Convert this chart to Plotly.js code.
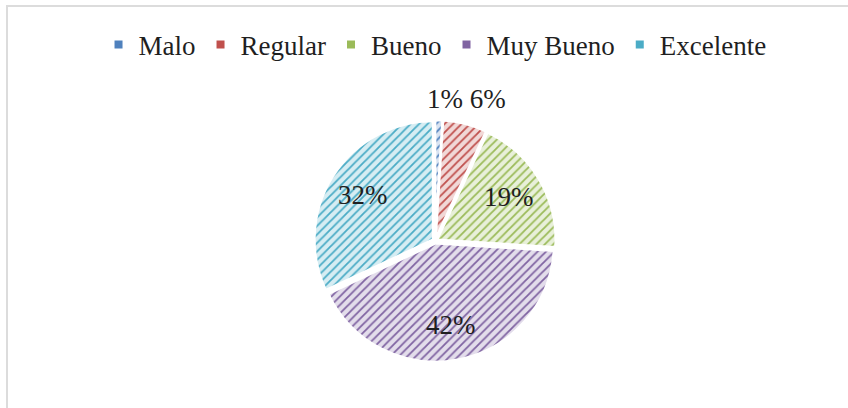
<!DOCTYPE html>
<html>
<head>
<meta charset="utf-8">
<script src="https://cdn.plot.ly/plotly-3.0.1.min.js"></script>
<style>
html,body{margin:0;padding:0;background:#fff;}
#wrap{position:relative;width:848px;height:408px;overflow:hidden;}
#frame{position:absolute;left:6px;top:5px;width:900px;height:500px;border-left:2px solid #dcdcdc;border-top:2px solid #dcdcdc;box-sizing:border-box;}
#chart{position:absolute;left:0;top:0;width:848px;height:408px;}
</style>
</head>
<body>
<div id="wrap"><div id="frame"></div><div id="chart"></div></div>
<script>
const categories = ["Malo", "Regular", "Bueno", "Muy Bueno", "Excelente"];
const values = [1, 6, 19, 42, 32];
const labelsText = ["1%", "6%", "19%", "42%", "32%"];
const labelPlacement = ["outside", "outside", "inside", "inside", "inside"];

const darkColors = ["#4f81bd", "#c0504d", "#9bbb59", "#8064a2", "#4bacc6"];
const lightColors = ["#d9e3f1", "#f1d8d7", "#e8f0d9", "#e3ddeb", "#d6edf3"];

const FONT = "'Liberation Serif', 'Times New Roman', serif";
const FSIZE = 27;
const W = 848, H = 408;
const dom = {x: [0.37, 0.656], y: [0.113, 0.706]};

const pie = {
  type: "pie",
  labels: categories,
  values: values,
  textinfo: "none",
  sort: false,
  direction: "clockwise",
  rotation: 0,
  pull: [0.02, 0.02, 0.02, 0.02, 0.02],
  showlegend: false,
  hoverinfo: "label+percent",
  marker: {
    colors: lightColors,
    line: {color: "#ffffff", width: 2.5},
    pattern: {
      shape: "/",
      fgcolor: darkColors,
      bgcolor: lightColors,
      fgopacity: 1,
      size: 6,
      solidity: 0.3,
      fillmode: "overlay"
    }
  },
  domain: dom,
  automargin: false
};

// legend entries as solid square markers
const legendTraces = categories.map((c, i) => ({
  type: "scatter",
  mode: "markers",
  x: [null], y: [null],
  name: c,
  marker: {symbol: "square", size: 8, color: darkColors[i]},
  showlegend: true,
  hoverinfo: "skip"
}));

// data labels placed from slice angles
const total = values.reduce((a, b) => a + b, 0);
const cxPx = (dom.x[0] + dom.x[1]) / 2 * W;
const cyPx = (1 - (dom.y[0] + dom.y[1]) / 2) * H;
const Rpx = (dom.y[1] - dom.y[0]) * H / 2;
const annotations = [];
let cum = 0;
const outsideIdx = [];
values.forEach((v, i) => {
  const mid = (cum + v / 2) / total * 2 * Math.PI;
  cum += v;
  if (labelPlacement[i] === "inside") {
    const r = 0.71 * Rpx;
    annotations.push({
      xref: "paper", yref: "paper",
      x: (cxPx + r * Math.sin(mid)) / W,
      y: 1 - (cyPx - r * Math.cos(mid)) / H,
      text: labelsText[i], showarrow: false,
      xanchor: "center", yanchor: "middle",
      font: {family: FONT, size: FSIZE, color: "#1f1f1f"}
    });
  } else {
    outsideIdx.push(i);
  }
});
if (outsideIdx.length) {
  let start = 0;
  for (let k = 0; k < outsideIdx[0]; k++) start += values[k];
  let span = 0;
  outsideIdx.forEach(i => span += values[i]);
  const mid = (start + span / 2) / total * 2 * Math.PI;
  const r = 1.2 * Rpx;
  annotations.push({
    xref: "paper", yref: "paper",
    x: (cxPx + r * Math.sin(mid)) / W,
    y: 1 - (cyPx - r * Math.cos(mid)) / H,
    text: outsideIdx.map(i => labelsText[i]).join(" "), showarrow: false,
    xanchor: "center", yanchor: "middle",
    font: {family: FONT, size: FSIZE, color: "#1f1f1f"}
  });
}

const layout = {
  width: W,
  height: H,
  margin: {l: 0, r: 0, t: 0, b: 0},
  paper_bgcolor: "rgba(0,0,0,0)",
  plot_bgcolor: "rgba(0,0,0,0)",
  xaxis: {visible: false, showgrid: false, zeroline: false},
  yaxis: {visible: false, showgrid: false, zeroline: false},
  showlegend: true,
  legend: {
    orientation: "h",
    x: 0.513,
    xanchor: "center",
    y: 0.89,
    yanchor: "middle",
    font: {family: FONT, size: FSIZE, color: "#1f1f1f"},
    itemwidth: 30,
    tracegroupgap: 0
  },
  annotations: annotations
};

Plotly.newPlot("chart", [pie].concat(legendTraces), layout, {displayModeBar: false, staticPlot: true});
</script>
</body>
</html>
